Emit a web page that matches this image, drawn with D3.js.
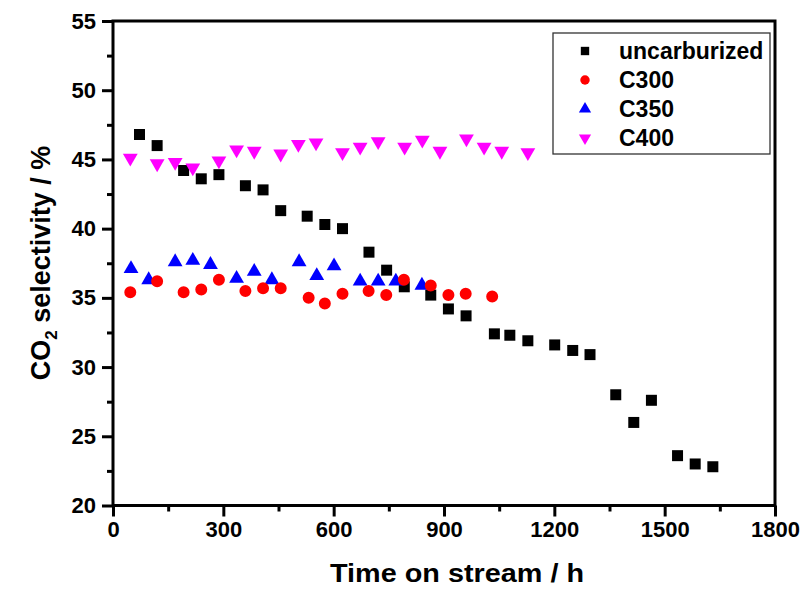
<!DOCTYPE html>
<html>
<head>
<meta charset="utf-8">
<script src="https://cdn.jsdelivr.net/npm/d3@7"></script>
<style>
  body { margin: 0; background: #fff; }
  text { font-family: Arial, "Liberation Sans", sans-serif; font-weight: bold; }
</style>
</head>
<body>
<div id="chart"></div>
<script>
let width = 807;
let height = 589;

// data (time in h, CO2 selectivity in %)
var uncarbTime = [72, 120, 192, 240, 288, 360, 408, 456, 528, 576, 624, 696, 744, 792, 864, 912, 960, 1037, 1079, 1128, 1201, 1250, 1297, 1367, 1416, 1464, 1535, 1583, 1631];
var uncarbSel  = [46.8, 46.0, 44.2, 43.6, 43.9, 43.1, 42.8, 41.3, 40.9, 40.3, 40.0, 38.3, 37.0, 35.8, 35.2, 34.2, 33.7, 32.4, 32.3, 31.9, 31.6, 31.2, 30.9, 28.0, 26.0, 27.6, 23.6, 23.0, 22.8];

var c300Time = [47, 120, 192, 240, 288, 360, 408, 456, 532, 576, 624, 695, 743, 791, 864, 912, 959, 1031];
var c300Sel  = [35.4, 36.2, 35.4, 35.6, 36.3, 35.5, 35.7, 35.7, 35.0, 34.6, 35.3, 35.5, 35.2, 36.3, 35.9, 35.2, 35.3, 35.1];

var c350Time = [49, 97, 169, 217, 265, 336, 384, 432, 506, 554, 601, 672, 721, 769, 840];
var c350Sel  = [37.1, 36.3, 37.6, 37.7, 37.4, 36.4, 36.9, 36.3, 37.6, 36.6, 37.3, 36.2, 36.2, 36.2, 35.9];

var c400Time = [47, 120, 169, 217, 288, 336, 384, 456, 504, 552, 624, 672, 721, 793, 841, 889, 961, 1009, 1057, 1128];
var c400Sel  = [45.1, 44.7, 44.8, 44.4, 44.9, 45.7, 45.6, 45.4, 46.1, 46.2, 45.5, 45.9, 46.3, 45.9, 46.4, 45.6, 46.5, 45.9, 45.6, 45.5];

var xTicks = [0, 300, 600, 900, 1200, 1500, 1800];
var yTicks = [20, 25, 30, 35, 40, 45, 50, 55];
var legendNames = ["uncarburized", "C300", "C350", "C400"];

let svg = d3.select("#chart").append("svg")
  .attr("width", width)
  .attr("height", height);

svg.append("rect").attr("width", width).attr("height", height).attr("fill", "#fff");

var x = d3.scaleLinear().domain([0, 1800]).range([113, 775]);
var y = d3.scaleLinear().domain([20, 55]).range([505.5, 21]);

// minor ticks
svg.append("g")
  .attr("transform", "translate(0," + y(20) + ")")
  .call(d3.axisBottom(x).tickValues(d3.range(150, 1800, 300)).tickSize(6).tickFormat(""))
  .call(g => g.select(".domain").remove())
  .call(g => g.selectAll("line").attr("stroke-width", 3));
svg.append("g")
  .attr("transform", "translate(" + x(0) + ",0)")
  .call(d3.axisLeft(y).tickValues(d3.range(22.5, 55, 5)).tickSize(6).tickFormat(""))
  .call(g => g.select(".domain").remove())
  .call(g => g.selectAll("line").attr("stroke-width", 3));

// major axes
var xAxis = svg.append("g")
  .attr("transform", "translate(0," + y(20) + ")")
  .call(d3.axisBottom(x).tickValues(xTicks).tickSize(11).tickPadding(5).tickFormat(d3.format("d")));
xAxis.select(".domain").remove();
xAxis.selectAll("line").attr("stroke-width", 3);
xAxis.selectAll("text").attr("font-size", 22).attr("fill", "#000")
  .attr("font-family", "Arial, 'Liberation Sans', sans-serif");

var yAxis = svg.append("g")
  .attr("transform", "translate(" + x(0) + ",0)")
  .call(d3.axisLeft(y).tickValues(yTicks).tickSize(11).tickPadding(6));
yAxis.select(".domain").remove();
yAxis.selectAll("line").attr("stroke-width", 3);
yAxis.selectAll("text").attr("font-size", 22).attr("fill", "#000")
  .attr("font-family", "Arial, 'Liberation Sans', sans-serif");

// frame
svg.append("rect")
  .attr("x", x(0)).attr("y", y(55))
  .attr("width", x(1800) - x(0)).attr("height", y(20) - y(55))
  .attr("fill", "none").attr("stroke", "#000").attr("stroke-width", 3);

// axis titles
svg.append("text")
  .attr("x", 457).attr("y", 582)
  .attr("text-anchor", "middle")
  .attr("font-size", 26)
  .attr("textLength", 254).attr("lengthAdjust", "spacingAndGlyphs")
  .text("Time on stream / h");

var yTitle = svg.append("text")
  .attr("transform", "translate(50,263) rotate(-90)")
  .attr("text-anchor", "middle")
  .attr("font-size", 27);
yTitle.append("tspan").text("CO");
yTitle.append("tspan").attr("font-size", 17).attr("dy", 7).text("2");
yTitle.append("tspan").attr("dy", -7).text(" selectivity / %");

// symbols
var sym = {
  square: d3.symbol().type(d3.symbolSquare),
  circle: d3.symbol().type(d3.symbolCircle),
  tri: d3.symbol().type(d3.symbolTriangle)
};

function drawSeries(times, sels, shape, size, color, rot) {
  svg.append("g")
    .selectAll("path")
    .data(times.map((t, i) => [t, sels[i]]))
    .enter()
    .append("path")
    .attr("d", sym[shape].size(size)())
    .attr("transform", d => "translate(" + x(d[0]) + "," + y(d[1]) + ")" + (rot ? " rotate(180)" : ""))
    .attr("fill", color);
}

drawSeries(uncarbTime, uncarbSel, "square", 121, "#000000", false);
drawSeries(c350Time, c350Sel, "tri", 95, "#0000ff", false);
drawSeries(c300Time, c300Sel, "circle", 113, "#ff0000", false);
drawSeries(c400Time, c400Sel, "tri", 95, "#ff00ff", true);

// legend
var leg = svg.append("g");
leg.append("rect")
  .attr("x", 553).attr("y", 33).attr("width", 217).attr("height", 121)
  .attr("fill", "#fff").attr("stroke", "#333").attr("stroke-width", 1.3);

var legShapes = [["square", 70, "#000000", false], ["circle", 70, "#ff0000", false], ["tri", 65, "#0000ff", false], ["tri", 65, "#ff00ff", true]];
legendNames.forEach(function (name, i) {
  var ly = 51 + i * 29;
  var s = legShapes[i];
  leg.append("path")
    .attr("d", sym[s[0]].size(s[1])())
    .attr("transform", "translate(585," + ly + ")" + (s[3] ? " rotate(180)" : ""))
    .attr("fill", s[2]);
  leg.append("text")
    .attr("x", 619).attr("y", ly + 8)
    .attr("font-size", 23)
    .text(name);
});
</script>
</body>
</html>
